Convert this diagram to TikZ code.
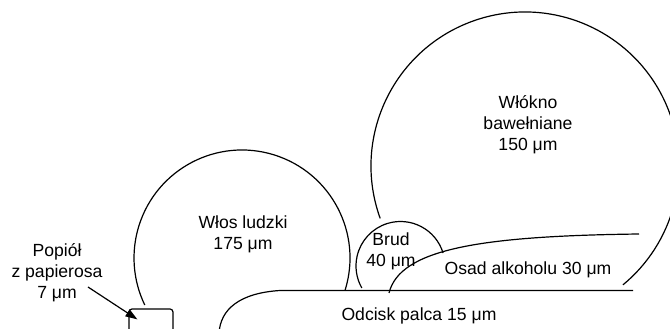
\documentclass[tikz,border=0pt]{standalone}
\usepackage{fontspec}
\setmainfont{Liberation Sans}
\usetikzlibrary{arrows.meta,calc}
\begin{document}
\begin{tikzpicture}[x=1pt,y=1pt,
  outline/.style={line width=1.2pt, black},
  lbl/.style={align=center, inner sep=0pt, font=\fontsize{17.6}{21}\selectfont},
  pointer/.style={line width=1.2pt, -{Triangle[length=12pt,width=8pt]}}]
  \useasboundingbox (0,0) rectangle (670,329);
  \clip (0,0) rectangle (670,329);

  % particle outlines, drawn as arcs of their circles
  \coordinate (cotton) at (525,163);
  \coordinate (hair) at (242,71);
  \coordinate (dirt) at (400.5,63);
  \draw[outline] (cotton) ++(199.9:154pt) arc[start angle=199.9, end angle=-50.5, radius=154pt];
  \draw[outline] (hair) ++(-17.3:108pt) arc[start angle=-17.3, end angle=205.8, radius=108pt];
  \draw[outline] (dirt) ++(17:44.5pt) arc[start angle=17, end angle=209.6, radius=44.5pt];

  % fingerprint layer and alcohol residue
  \draw[outline] (219,-5) .. controls (220,20) and (240,36) .. (280,38.5) -- (633,38.5);
  \draw[outline] (389,36) .. controls (400,80) and (480,93) .. (639,95);

  % ash particle
  \node[draw, outline, rounded corners=3pt, minimum width=44pt, minimum height=30pt,
        inner sep=0pt] (ashbox) at (151,5) {};

  % labels
  \node[lbl] (cottontxt) at (528,204) {Włókno\\bawełniane\\150 μm};
  \node[lbl] (hairtxt) at (243,95) {Włos ludzki\\175 μm};
  \node[lbl] (dirttxt) at (391,78) {Brud\\40 μm};
  \node[lbl] (alcotxt) at (528,59) {Osad alkoholu 30 μm};
  \node[lbl] (printtxt) at (419,13) {Odcisk palca 15 μm};
  \node[lbl] (ashtxt) at (57,56) {Popiół\\z papierosa\\7 μm};

  \coordinate (ashtail) at (88,42);
  \coordinate (ashtip) at ($(ashbox.north west)+(9,-11)$);
  \draw[pointer] (ashtail) -- (ashtip);
\end{tikzpicture}
\end{document}
